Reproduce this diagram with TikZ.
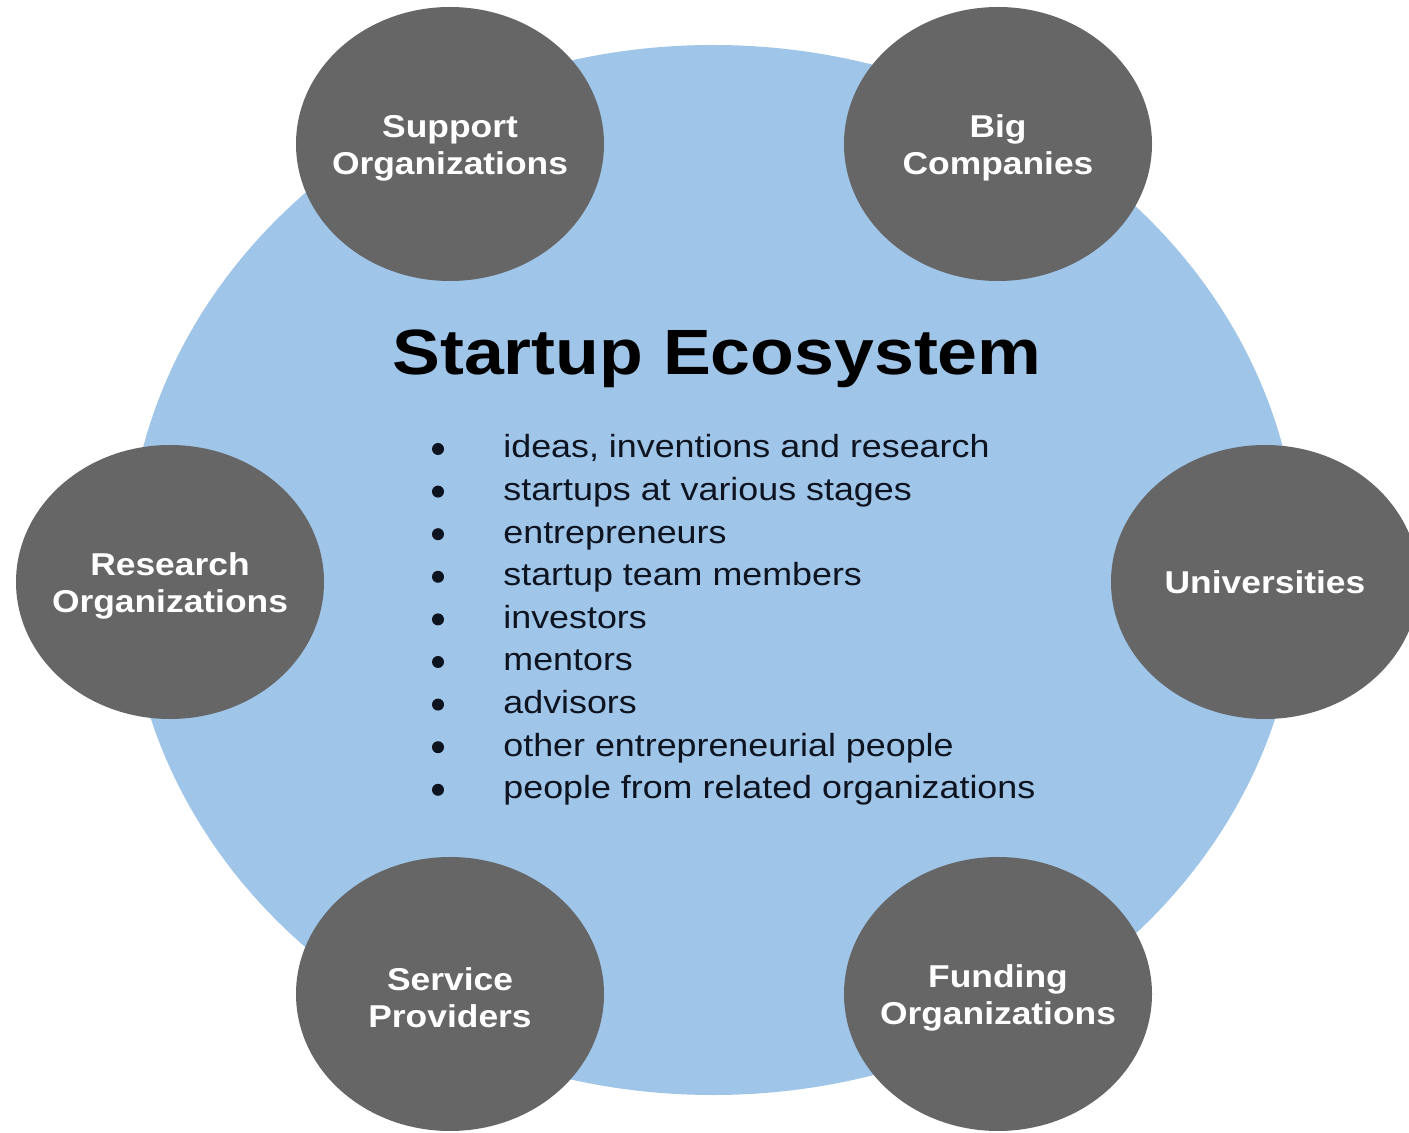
\documentclass[tikz,border=0pt]{standalone}
\usepackage{fontspec}
\setmainfont{Liberation Sans}
\newfontfamily\lsans[FakeStretch=1.12]{Liberation Sans}
\usetikzlibrary{shapes.geometric}
\definecolor{ecoblue}{HTML}{9FC5E8}
\definecolor{ecogray}{HTML}{666666}
\definecolor{ecotext}{HTML}{0E1320}
\tikzset{
  bigcirc/.style={ellipse, fill=ecoblue, draw=none, inner sep=0pt, minimum width=586pt, minimum height=525pt},
  actor/.style={ellipse, fill=ecogray, draw=none, inner sep=0pt, minimum width=154pt, minimum height=137pt},
  actortext/.style={inner sep=0pt, text=white, align=center, yshift=-2pt, font=\lsans\bfseries\fontsize{15.8pt}{18.5pt}\selectfont},
  titlestyle/.style={inner sep=0pt, anchor=base, text=black, font=\lsans\bfseries\fontsize{32pt}{36pt}\selectfont},
  itemstyle/.style={inner sep=0pt, anchor=base west, text=ecotext, font=\lsans\fontsize{16pt}{19pt}\selectfont},
  bulletstyle/.style={circle, fill=ecotext, draw=none, inner sep=0pt, minimum size=6pt}
}
\begin{document}
\begin{tikzpicture}[x=0.5pt,y=-0.5pt]
\useasboundingbox (0,0) rectangle (1409,1133);
\clip (0,0) rectangle (1409,1133);
\fill[white] (0,0) rectangle (1409,1133);
\node[bigcirc] (eco) at (713,570) {};
\node[actor] (support) at (450,144) {};
\node[actor] (big) at (998,144) {};
\node[actor] (research) at (170,582) {};
\node[actor] (univ) at (1265,582) {};
\node[actor] (service) at (450,994) {};
\node[actor] (funding) at (998,994) {};
\node[actortext] (supportT) at (support.center) {Support\\Organizations};
\node[actortext] (bigT) at (big.center) {Big\\Companies};
\node[actortext] (researchT) at (research.center) {Research\\Organizations};
\node[actortext, yshift=2pt] (univT) at (univ.center) {Universities};
\node[actortext] (serviceT) at (service.center) {Service\\Providers};
\node[actortext] (fundingT) at (funding.center) {Funding\\Organizations};
\node[titlestyle] (title) at (717,375) {Startup Ecosystem};
\foreach \t [count=\i] in {{ideas, inventions and research},{startups at various stages},{entrepreneurs},{startup team members},{investors},{mentors},{advisors},{other entrepreneurial people},{people from related organizations}}{
  \node[bulletstyle] (b\i) at (438,{449+42.6*(\i-1)}) {};
  \node[itemstyle] (t\i) at (503,{458+42.6*(\i-1)}) {\t};
}
\end{tikzpicture}
\end{document}
